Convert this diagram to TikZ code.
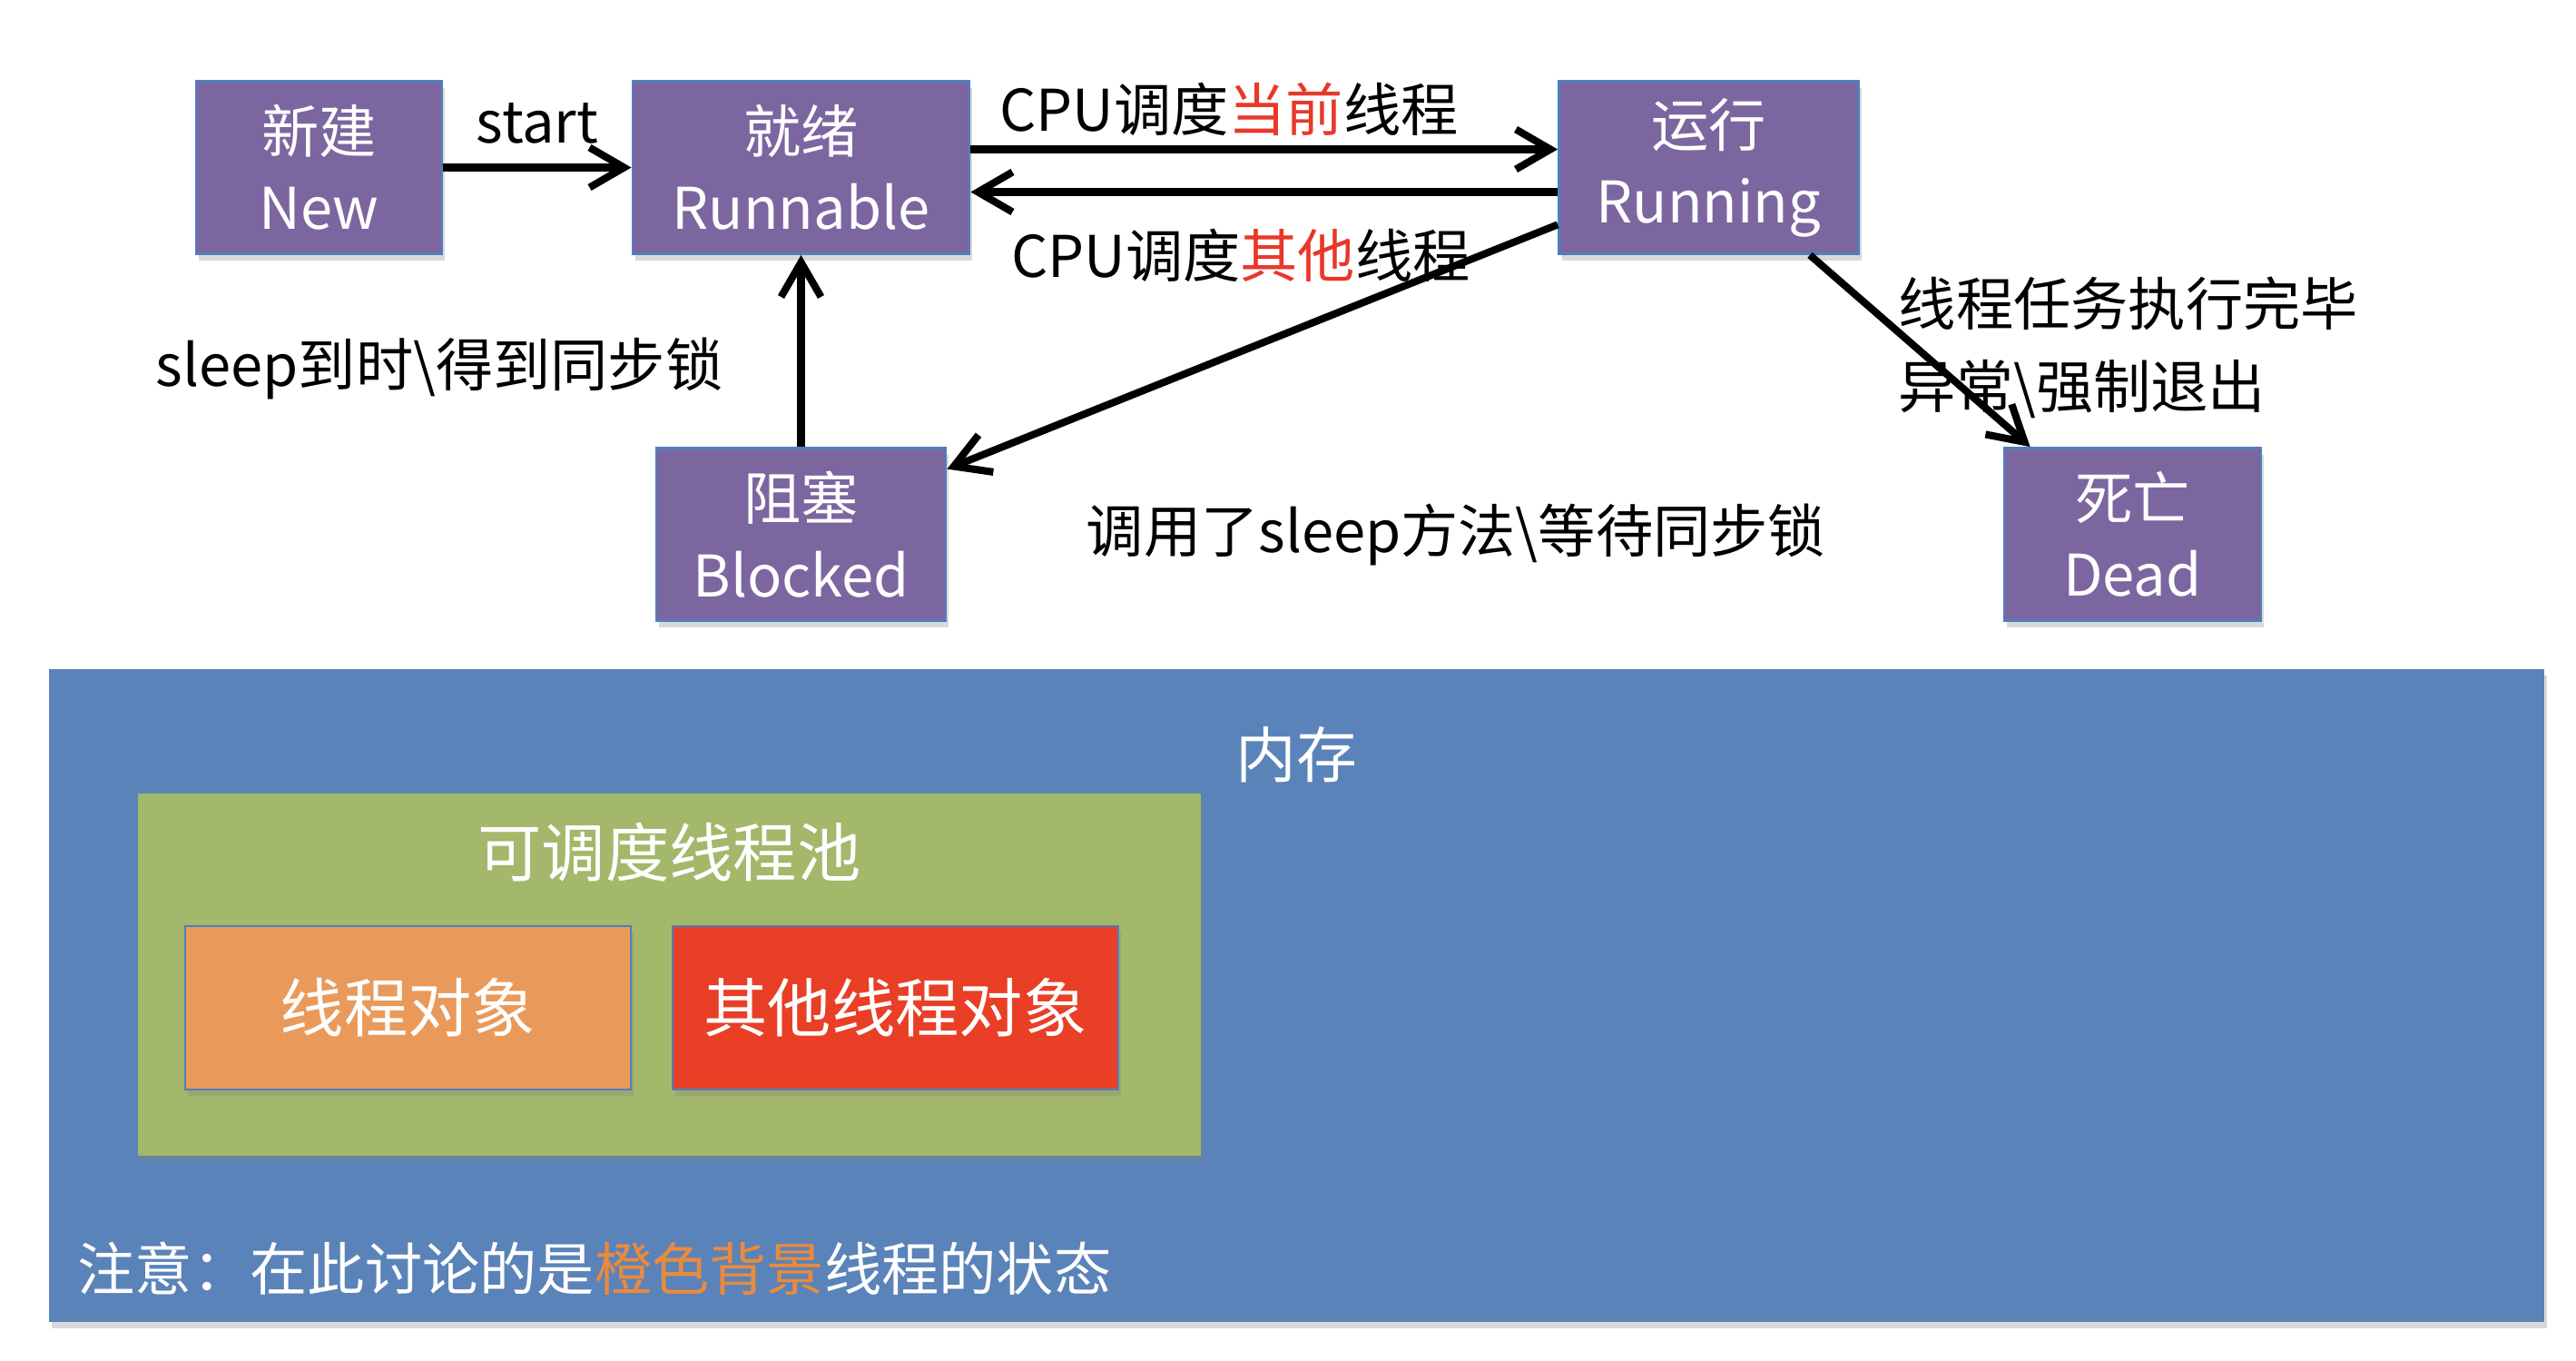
\documentclass[tikz,border=0pt]{standalone}
\usepackage{fontspec}
\setmainfont{Noto Sans CJK SC}
\usetikzlibrary{positioning, arrows.meta, shadows}

\definecolor{statefill}{HTML}{7B66A0}
\definecolor{boxline}{HTML}{4F7FBC}
\definecolor{memfill}{HTML}{5A83B9}
\definecolor{poolfill}{HTML}{A3B86A}
\definecolor{objfill}{HTML}{E99A5A}
\definecolor{otherfill}{HTML}{E83F26}
\definecolor{hlred}{HTML}{E8382A}
\definecolor{hlorange}{HTML}{E88B3E}

\begin{document}
\begin{tikzpicture}[on grid, auto,
    >={Straight Barb[length=3.8mm, width=4.4mm]},
    shade/.style={drop shadow={shadow xshift=0.03cm, shadow yshift=-0.07cm, opacity=0.3}},
    state/.style={rectangle, fill=statefill, draw=boxline, line width=0.8pt, shade,
        minimum height=1.9cm, align=center, text=white,
        font=\fontsize{18}{24}\selectfont},
    lbl/.style={font=\fontsize{18}{22}\selectfont, inner sep=2pt},
    box/.style={rectangle, shade, text=white, font=\fontsize{20}{24}\selectfont}]
    \useasboundingbox (0,0) rectangle (28.38,-14.98);

    % thread states
    \node[state, minimum width=2.71cm] (N) at (3.515,-1.845) {新建\\New};
    \node[state, minimum width=3.71cm] (Rn) [right=5.31cm of N] {就绪\\Runnable};
    \node[state, minimum width=3.30cm] (Ru) [right=10cm of Rn] {运行\\Running};
    \node[state, minimum width=3.19cm] (B) [below=4.04cm of Rn] {阻塞\\Blocked};
    \node[state, minimum width=2.83cm] (D) [right=14.67cm of B] {死亡\\Dead};

    \path[->, line width=2.3pt]
    (N) edge node[lbl, above, yshift=0.15cm] {start} (Rn)
    ([yshift=2mm]Rn.east) edge node[lbl, above, pos=0.44, yshift=0.04cm] {CPU调度\textcolor{hlred}{当前}线程} ([yshift=2mm]Ru.west)
    ([yshift=-2.7mm]Ru.west) edge node[lbl, below, pos=0.54, yshift=-0.29cm] {CPU调度\textcolor{hlred}{其他}线程} ([yshift=-2.7mm]Rn.east)
    ([yshift=0.335cm]Ru.south west) edge ([yshift=-0.245cm]B.north east)
    (B) edge node[lbl, left, pos=0.41, xshift=-0.75cm] {sleep到时\textbackslash 得到同步锁} (Rn)
    ([xshift=-0.55cm]Ru.south east) edge ([xshift=0.3cm]D.north west);

    \node[lbl, anchor=west] (callLbl) at (11.89,-5.89) {调用了sleep方法\textbackslash 等待同步锁};
    \node[lbl, anchor=west, align=left, font=\fontsize{18}{26}\selectfont] (deadLbl) at (20.84,-3.825)
        {线程任务执行完毕\\异常\textbackslash 强制退出};

    % memory
    \node[box, fill=memfill, minimum width=27.49cm, minimum height=7.19cm] (M) at (14.285,-10.965) {};
    \node[text=white, font=\fontsize{19}{23}\selectfont] (memLbl) at ([yshift=-0.95cm]M.north) {内存};
    \node[box, fill=poolfill, minimum width=11.71cm, minimum height=3.99cm] (P) at (7.375,-10.735) {};
    \node[text=white, font=\fontsize{20}{24}\selectfont] (poolLbl) at ([yshift=-0.65cm]P.north) {可调度线程池};
    \node[box, fill=objfill, draw=boxline, line width=0.8pt, minimum width=4.91cm, minimum height=1.8cm] (T) at (4.495,-11.10) {线程对象};
    \node[box, fill=otherfill, draw=boxline, line width=0.8pt, minimum width=4.91cm, minimum height=1.8cm] (O) [right=5.37cm of T] {其他线程对象};

    \node[lbl, anchor=west, text=white] (note) at (0.78,-13.97)
        {注意：在此讨论的是\textcolor{hlorange}{橙色背景}线程的状态};
\end{tikzpicture}
\end{document}
